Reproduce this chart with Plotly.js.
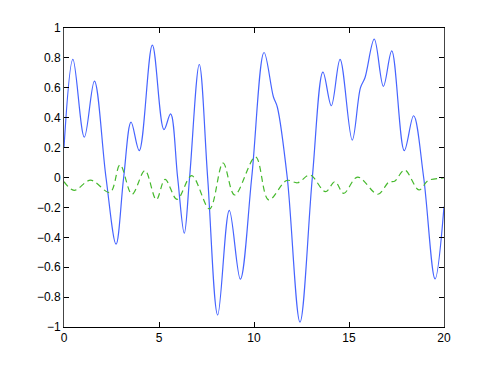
<!DOCTYPE html>
<html>
<head>
<meta charset="utf-8">
<script src="https://cdn.plot.ly/plotly-3.0.1.min.js"></script>
<style>
html,body{margin:0;padding:0;background:#fff;}
#chart{width:491px;height:369px;}
</style>
</head>
<body>
<div id="chart"></div>
<script>
// Solid blue series
var blueX = [0, 0.47, 1.07, 1.6, 2.21, 2.74, 3.14, 3.53, 3.96, 4.65, 5.26, 5.61, 5.98, 6.33, 6.61, 7.12, 7.56, 8.09, 8.7, 9.28, 9.88, 10.53, 11.02, 11.23, 11.75, 12.42, 13.07, 13.63, 14.07, 14.53, 15.17, 15.6, 15.84, 16.33, 16.81, 17.25, 17.91, 18.4, 18.93, 19.53, 20];
var blueY = [0.2, 0.79, 0.27, 0.645, 0, -0.446, 0, 0.37, 0.18, 0.885, 0.32, 0.425, 0, -0.373, 0, 0.756, 0, -0.92, -0.22, -0.68, 0, 0.836, 0.54, 0.47, 0, -0.967, 0, 0.705, 0.48, 0.79, 0.25, 0.6, 0.667, 0.925, 0.61, 0.847, 0.18, 0.413, 0, -0.678, -0.195];

// Dashed green series
var greenX = [0, 0.53, 1.4, 2.42, 2.95, 3.58, 4.26, 4.86, 5.32, 5.95, 6.72, 7.66, 8.37, 8.98, 10.08, 10.77, 11.72, 12.3, 12.95, 13.76, 14.26, 14.72, 15.45, 16.52, 17.1, 17.4, 17.93, 18.68, 19.17, 19.88, 20];
var greenY = [-0.028, -0.086, -0.018, -0.1, 0.085, -0.112, 0.046, -0.148, -0.012, -0.146, 0.012, -0.21, 0.097, -0.117, 0.138, -0.15, -0.02, -0.035, 0.017, -0.095, -0.028, -0.106, 0.003, -0.112, -0.03, -0.025, 0.05, -0.083, -0.02, -0.004, 0];

var xTicks = [0, 5, 10, 15, 20];
var yTicks = [-1, -0.8, -0.6, -0.4, -0.2, 0, 0.2, 0.4, 0.6, 0.8, 1];

var traces = [
  {x: blueX, y: blueY, type: 'scatter', mode: 'lines',
   line: {color: 'rgb(70,100,255)', width: 1.2, shape: 'spline', smoothing: 1},
   hoverinfo: 'skip'},
  {x: greenX, y: greenY, type: 'scatter', mode: 'lines',
   line: {color: 'rgb(70,185,45)', width: 1.2, shape: 'spline', smoothing: 1, dash: '6px,4px'},
   hoverinfo: 'skip'}
];

var layout = {
  width: 491, height: 369,
  margin: {l: 64, r: 47, t: 28, b: 42, pad: 0},
  paper_bgcolor: '#fff', plot_bgcolor: '#fff',
  showlegend: false,
  font: {family: 'Liberation Sans, Arial, sans-serif', size: 12, color: '#000'},
  xaxis: {range: [0, 20], tickvals: xTicks, ticktext: xTicks.map(String),
    showgrid: false, zeroline: false, showline: true, linecolor: '#000', linewidth: 1,
    mirror: 'ticks', ticks: 'inside', ticklen: 5, tickcolor: '#000', tickwidth: 1,
    fixedrange: true},
  yaxis: {range: [-1, 1], tickvals: yTicks,
    ticktext: yTicks.map(function(v){ return v < 0 ? '\u2212' + String(Math.abs(v)) : String(v); }),
    showgrid: false, zeroline: false, showline: true, linecolor: '#444', linewidth: 1,
    mirror: 'ticks', ticks: 'inside', ticklen: 5, tickcolor: '#000', tickwidth: 1,
    fixedrange: true}
};

Plotly.newPlot('chart', traces, layout, {staticPlot: true, displayModeBar: false});
</script>
</body>
</html>
